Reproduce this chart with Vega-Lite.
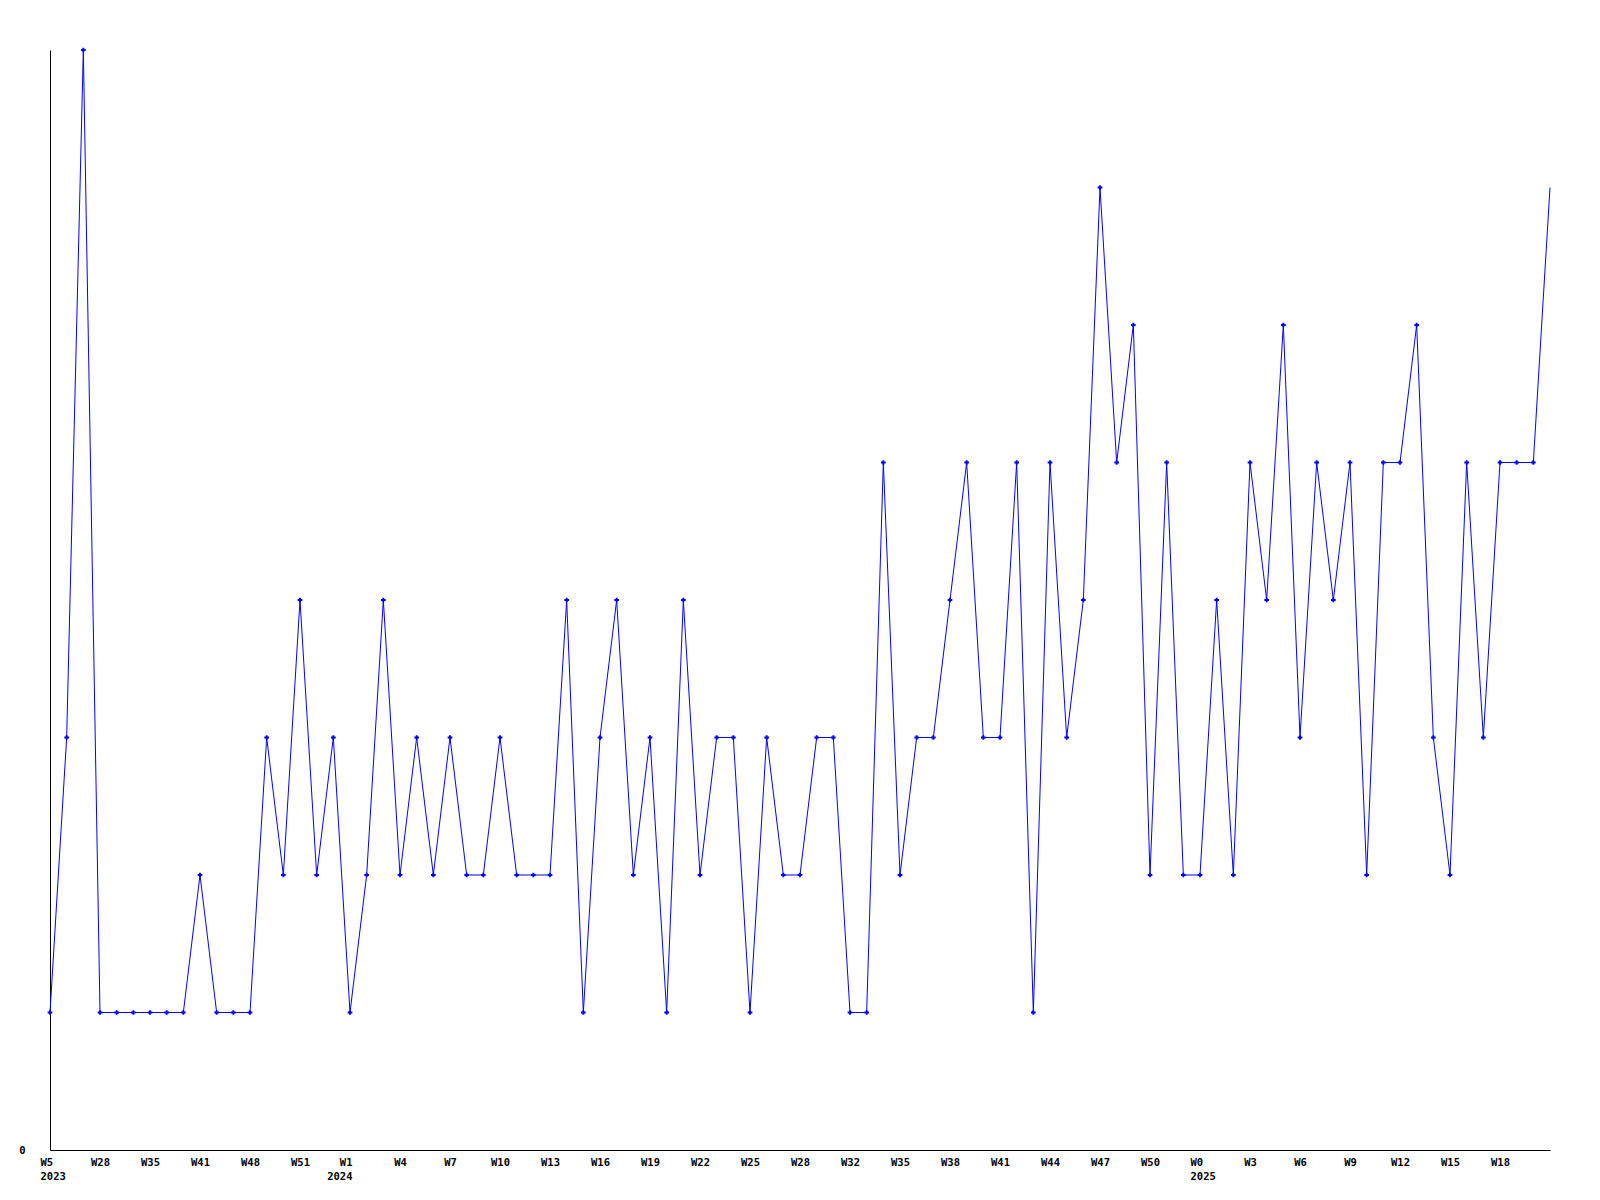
{
  "$schema": "https://vega.github.io/schema/vega-lite/v6.json",
  "width": 1500,
  "height": 1100,
  "autosize": {"type": "none"},
  "padding": {"left": 50, "top": 50, "right": 50, "bottom": 50},
  "background": "white",
  "config": {"view": {"stroke": null}},
  "data": {"values": [
    {"week": "2023-W5", "count": 1},
    {"week": "2023-W20", "count": 3},
    {"week": "2023-W25", "count": 8},
    {"week": "2023-W28", "count": 1},
    {"week": "2023-W30", "count": 1},
    {"week": "2023-W33", "count": 1},
    {"week": "2023-W35", "count": 1},
    {"week": "2023-W37", "count": 1},
    {"week": "2023-W39", "count": 1},
    {"week": "2023-W41", "count": 2},
    {"week": "2023-W43", "count": 1},
    {"week": "2023-W46", "count": 1},
    {"week": "2023-W48", "count": 1},
    {"week": "2023-W49", "count": 3},
    {"week": "2023-W50", "count": 2},
    {"week": "2023-W51", "count": 4},
    {"week": "2023-W52", "count": 2},
    {"week": "2024-W0", "count": 3},
    {"week": "2024-W1", "count": 1},
    {"week": "2024-W2", "count": 2},
    {"week": "2024-W3", "count": 4},
    {"week": "2024-W4", "count": 2},
    {"week": "2024-W5", "count": 3},
    {"week": "2024-W6", "count": 2},
    {"week": "2024-W7", "count": 3},
    {"week": "2024-W8", "count": 2},
    {"week": "2024-W9", "count": 2},
    {"week": "2024-W10", "count": 3},
    {"week": "2024-W11", "count": 2},
    {"week": "2024-W12", "count": 2},
    {"week": "2024-W13", "count": 2},
    {"week": "2024-W14", "count": 4},
    {"week": "2024-W15", "count": 1},
    {"week": "2024-W16", "count": 3},
    {"week": "2024-W17", "count": 4},
    {"week": "2024-W18", "count": 2},
    {"week": "2024-W19", "count": 3},
    {"week": "2024-W20", "count": 1},
    {"week": "2024-W21", "count": 4},
    {"week": "2024-W22", "count": 2},
    {"week": "2024-W23", "count": 3},
    {"week": "2024-W24", "count": 3},
    {"week": "2024-W25", "count": 1},
    {"week": "2024-W26", "count": 3},
    {"week": "2024-W27", "count": 2},
    {"week": "2024-W28", "count": 2},
    {"week": "2024-W30", "count": 3},
    {"week": "2024-W31", "count": 3},
    {"week": "2024-W32", "count": 1},
    {"week": "2024-W33", "count": 1},
    {"week": "2024-W34", "count": 5},
    {"week": "2024-W35", "count": 2},
    {"week": "2024-W36", "count": 3},
    {"week": "2024-W37", "count": 3},
    {"week": "2024-W38", "count": 4},
    {"week": "2024-W39", "count": 5},
    {"week": "2024-W40", "count": 3},
    {"week": "2024-W41", "count": 3},
    {"week": "2024-W42", "count": 5},
    {"week": "2024-W43", "count": 1},
    {"week": "2024-W44", "count": 5},
    {"week": "2024-W45", "count": 3},
    {"week": "2024-W46", "count": 4},
    {"week": "2024-W47", "count": 7},
    {"week": "2024-W48", "count": 5},
    {"week": "2024-W49", "count": 6},
    {"week": "2024-W50", "count": 2},
    {"week": "2024-W51", "count": 5},
    {"week": "2024-W52", "count": 2},
    {"week": "2025-W0", "count": 2},
    {"week": "2025-W1", "count": 4},
    {"week": "2025-W2", "count": 2},
    {"week": "2025-W3", "count": 5},
    {"week": "2025-W4", "count": 4},
    {"week": "2025-W5", "count": 6},
    {"week": "2025-W6", "count": 3},
    {"week": "2025-W7", "count": 5},
    {"week": "2025-W8", "count": 4},
    {"week": "2025-W9", "count": 5},
    {"week": "2025-W10", "count": 2},
    {"week": "2025-W11", "count": 5},
    {"week": "2025-W12", "count": 5},
    {"week": "2025-W13", "count": 6},
    {"week": "2025-W14", "count": 3},
    {"week": "2025-W15", "count": 2},
    {"week": "2025-W16", "count": 5},
    {"week": "2025-W17", "count": 3},
    {"week": "2025-W18", "count": 5},
    {"week": "2025-W19", "count": 5},
    {"week": "2025-W20", "count": 5},
    {"week": "2025-W21", "count": 7}
  ]},
  "encoding": {
    "x": {
      "field": "week",
      "type": "ordinal",
      "sort": null,
      "scale": {"type": "point", "padding": 0},
      "axis": {
        "title": null,
        "values": ["2023-W5", "2023-W28", "2023-W35", "2023-W41", "2023-W48", "2023-W51", "2024-W1", "2024-W4", "2024-W7", "2024-W10", "2024-W13", "2024-W16", "2024-W19", "2024-W22", "2024-W25", "2024-W28", "2024-W32", "2024-W35", "2024-W38", "2024-W41", "2024-W44", "2024-W47", "2024-W50", "2025-W0", "2025-W3", "2025-W6", "2025-W9", "2025-W12", "2025-W15", "2025-W18"],
        "labelExpr": "(datum.value == '2023-W5' || datum.value == '2024-W1' || datum.value == '2025-W0') ? [split(datum.value, '-')[1], split(datum.value, '-')[0]] : split(datum.value, '-')[1]",
        "labelAngle": 0,
        "labelAlign": {
          "condition": [
            {"test": "datum.value == '2023-W5' || datum.value == '2025-W0'", "value": "left"},
            {"test": "datum.value == '2024-W1'", "value": "right"}
          ],
          "value": "center"
        },
        "labelOffset": {
          "condition": [
            {"test": "datum.value == '2023-W5' || datum.value == '2025-W0'", "value": -10},
            {"test": "datum.value == '2024-W1'", "value": 2}
          ],
          "value": 0
        },
        "labelBaseline": "top",
        "labelPadding": 7,
        "labelLineHeight": 14,
        "labelFont": "DejaVu Sans Mono",
        "labelFontWeight": "bold",
        "labelFontSize": 10.5,
        "labelColor": "black",
        "labelOverlap": false,
        "labelBound": false,
        "labelFlush": false,
        "ticks": false,
        "tickSize": 0,
        "grid": false,
        "domainColor": "black",
        "domainWidth": 1
      }
    },
    "y": {
      "field": "count",
      "type": "quantitative",
      "scale": {"domain": [0, 8], "nice": false, "zero": true},
      "axis": {
        "title": null,
        "values": [0],
        "format": "d",
        "ticks": false,
        "tickSize": 0,
        "grid": false,
        "labelPadding": 25,
        "labelFont": "DejaVu Sans Mono",
        "labelFontWeight": "bold",
        "labelFontSize": 10.5,
        "labelColor": "black",
        "domainColor": "black",
        "domainWidth": 1
      }
    }
  },
  "layer": [
    {"mark": {"type": "line", "color": "#0000ff", "strokeWidth": 1}},
    {
      "transform": [{"filter": "datum.week != '2025-W21'"}],
      "mark": {"type": "point", "shape": "cross", "filled": true, "size": 22, "color": "#0000ff", "opacity": 1}
    }
  ]
}
